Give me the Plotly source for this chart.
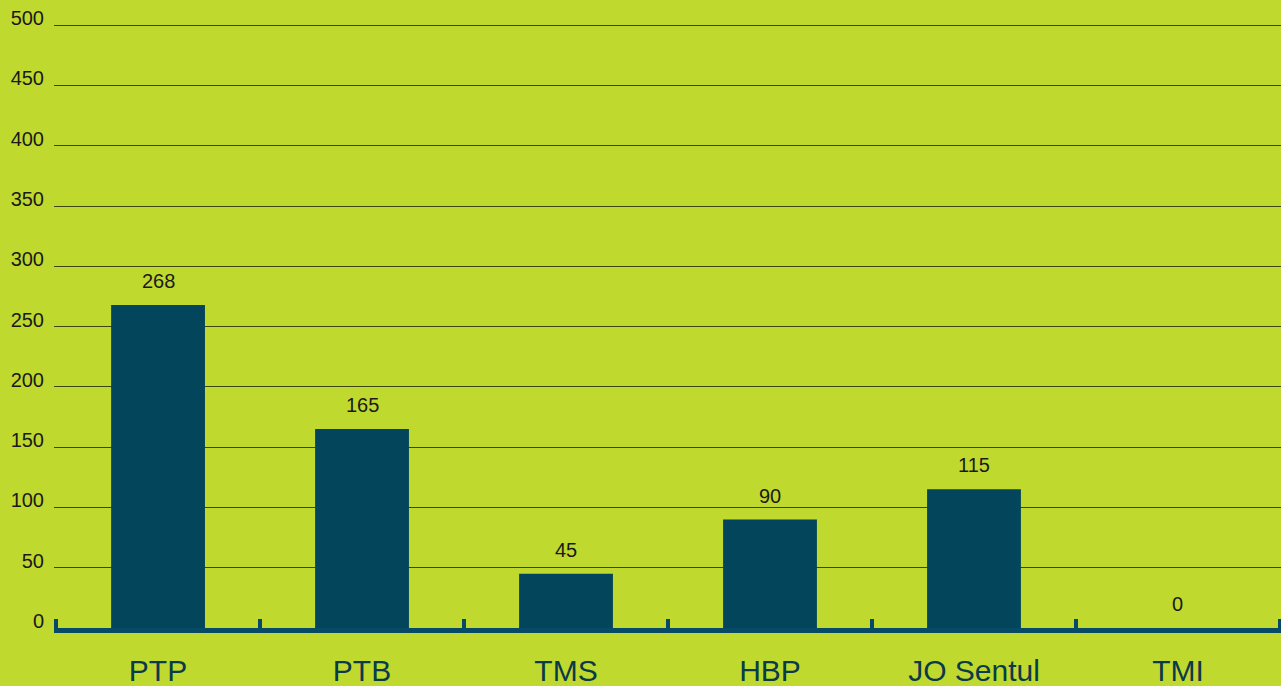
import plotly.graph_objects as go

categories = ["PTP", "PTB", "TMS", "HBP", "JO Sentul", "TMI"]
values = [268, 165, 45, 90, 115, 0]
y_ticks = [0, 50, 100, 150, 200, 250, 300, 350, 400, 450, 500]

BG = "#c0d92e"
BAR = "#03455a"

fig = go.Figure()
fig.add_trace(go.Bar(
    x=categories, y=values, marker=dict(color=BAR, line=dict(width=0)),
    width=0.46, hoverinfo="x+y",
))
for c, v in zip(categories, values):
    fig.add_annotation(x=c, y=v, text=str(v), showarrow=False, yanchor="bottom",
                       yshift=11, font=dict(family="Liberation Sans, Arial", size=20, color="#1a1a1a"))

fig.update_layout(
    width=1281, height=686,
    paper_bgcolor=BG, plot_bgcolor=BG,
    margin=dict(l=54, r=0, t=24, b=58),
    showlegend=False,
    bargap=0.54,
    xaxis=dict(
        range=[-0.51, 5.505],
        showline=True, linecolor="#064a66", linewidth=5,
        ticks="inside", tickson="boundaries", ticklen=9, tickwidth=4, tickcolor="#064a66",
        tickfont=dict(family="Liberation Sans, Arial", size=30, color="#0b3a48"),
        ticklabelstandoff=12,
        showgrid=False, zeroline=False,
    ),
    yaxis=dict(
        range=[0, 501], tickvals=y_ticks,
        showgrid=True, gridcolor="#3a470f", gridwidth=1,
        zeroline=False, showline=False,
        tickfont=dict(family="Liberation Sans, Arial", size=20, color="#1a1a1a"),
        ticklabelstandoff=9, ticklabelshift=-7,
    ),
)
fig.write_html("out.html", config={"displayModeBar": False},
               post_script="document.body.style.margin='0';document.body.style.overflow='hidden';")
